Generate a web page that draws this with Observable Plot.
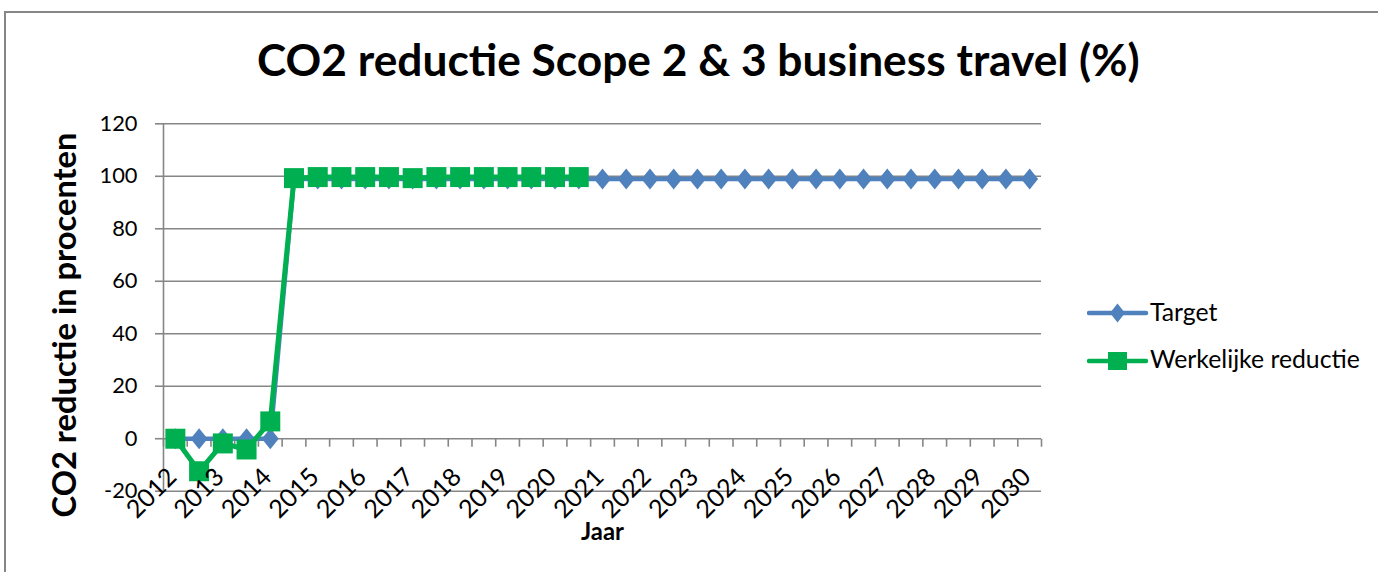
<!DOCTYPE html>
<html>
<head>
<meta charset="utf-8">
<script src="https://cdn.jsdelivr.net/npm/d3@7"></script>
<script src="https://cdn.jsdelivr.net/npm/@observablehq/plot@0.6"></script>
<style>
  html, body { margin: 0; padding: 0; background: #fff; }
  #chart { position: relative; width: 1378px; height: 572px; overflow: hidden; background: #fff; font-family: Lato, "Open Sans", sans-serif; }
  #chart svg.plot { position: absolute; left: 0; top: 0; }
  .abs { position: absolute; white-space: nowrap; color: #000; }
</style>
</head>
<body>
<div id="chart"></div>
<script>
// ---------- data ----------
const title = "CO2 reductie Scope 2 & 3 business travel (%)";
const yTitle = "CO2 reductie in procenten";
const xTitle = "Jaar";
const seriesNames = ["Target", "Werkelijke reductie"];
// axis labels, one per two periods on the category axis
const yearLabels = ["2012","2013","2014","2015","2016","2017","2018","2019","2020","2021",
                    "2022","2023","2024","2025","2026","2027","2028","2029","2030"];
const yTicks = [-20, 0, 20, 40, 60, 80, 100, 120];
// Target (37 periods)
const target = [0, 0, 0, 0, 0, 99, 99, 99, 99, 99, 99, 99, 99, 99, 99, 99, 99, 99, 99,
                99, 99, 99, 99, 99, 99, 99, 99, 99, 99, 99, 99, 99, 99, 99, 99, 99, 99];
// Werkelijke reductie (18 periods)
const actual = [0, -12.4, -1.8, -4.1, 6.6, 99.3, 99.7, 99.7, 99.7, 99.7, 99.3, 99.7, 99.7,
                99.7, 99.7, 99.7, 99.7, 99.7];

// ---------- styles ----------
const blue = "#4F81BD", green = "#00B050", gray = "#868686";
const family = "Lato";
const ctx = document.createElement("canvas").getContext("2d");
function fit(text, weight, width) {
  ctx.font = `${weight} 100px ${family}`;
  return 100 * width / ctx.measureText(text).width;
}
function ascent(size, weight) {
  ctx.font = `${weight} ${size}px ${family}`;
  const m = ctx.measureText("Hg");
  return {a: m.fontBoundingBoxAscent, d: m.fontBoundingBoxDescent};
}
const tickFs = fit("120", 400, 38);
const xTickFs = tickFs * 1.15;
const titleFs = fit(title, 700, 883);
const yTitleFs = fit(yTitle, 700, 385);
const xTitleFs = fit(xTitle, 700, 43);
const legendFs = fit(seriesNames[1], 400, 210);

const diamond = {draw(c) { c.moveTo(0, -10.5); c.lineTo(8.5, 0); c.lineTo(0, 10.5); c.lineTo(-8.5, 0); c.closePath(); }};
const square = {draw(c) { c.rect(-10, -10, 20, 20); }};
const tickDown = {draw(c) { c.moveTo(0, 0); c.lineTo(0, 8); }};

const n = target.length;
const targetData = target.map((v, i) => ({i, v}));
const actualData = actual.map((v, i) => ({i, v}));
const labelData = yearLabels.map((label, k) => ({i: 2 * k, label}));
const boundaries = d3.range(n + 1).map(i => i - 0.5);

const plot = Plot.plot({
  width: 1378,
  height: 572,
  marginLeft: 163,
  marginRight: 337,
  marginTop: 123.3,
  marginBottom: 81.3,
  x: {type: "linear", domain: [-0.5, n - 0.5], axis: null},
  y: {domain: [-20, 120], axis: null},
  style: {fontFamily: `${family}, sans-serif`, background: "transparent", color: "#000", overflow: "visible"},
  marks: [
    Plot.ruleY(yTicks, {stroke: gray, strokeWidth: 1.6}),
    Plot.ruleX([-0.5], {stroke: gray, strokeWidth: 1.6}),
    Plot.axisY({ticks: yTicks, tickSize: 8, tickPadding: 18, stroke: gray, strokeWidth: 1.6,
                fontSize: tickFs, label: null, tickFormat: d => String(d), fill: "#000"}),
    Plot.dot(boundaries, {x: d => d, y: 0, symbol: tickDown, stroke: gray, strokeWidth: 1.6, fill: "none"}),
    Plot.line(targetData, {x: "i", y: "v", stroke: blue, strokeWidth: 4.5}),
    Plot.dot(targetData, {x: "i", y: "v", symbol: diamond, fill: blue, stroke: "none"}),
    Plot.line(actualData, {x: "i", y: "v", stroke: green, strokeWidth: 5}),
    Plot.dot(actualData, {x: "i", y: "v", symbol: square, fill: green, stroke: "none"}),
    Plot.text(labelData, {x: "i", y: 0, text: "label", rotate: -45, textAnchor: "end", lineAnchor: "middle",
                          dx: -3, dy: 34, fontSize: xTickFs, fill: "#000"}),
    Plot.text([yTitle], {frameAnchor: "left", rotate: -90, textAnchor: "middle", lineAnchor: "bottom", dx: -88, dy: 17.5,
                         fontSize: yTitleFs, fontWeight: 700, fill: "#000"}),
    Plot.text([xTitle], {frameAnchor: "bottom", textAnchor: "middle", lineAnchor: "bottom", dx: 0, dy: 48.3,
                         fontSize: xTitleFs, fontWeight: 700, fill: "#000"})
  ]
});
plot.classList.add("plot");

const chart = document.getElementById("chart");
// outer border
const border = document.createElement("div");
border.className = "abs";
Object.assign(border.style, {left: "4px", top: "11px", width: "1500px", height: "700px", border: `2px solid ${gray}`, boxSizing: "border-box"});
chart.appendChild(border);
chart.appendChild(plot);

function addText(text, size, weight, left, baseline) {
  const m = ascent(size, weight);
  const el = document.createElement("div");
  el.className = "abs";
  el.textContent = text;
  Object.assign(el.style, {left: left + "px", top: (baseline - m.a) + "px", fontSize: size + "px",
    fontWeight: weight, fontFamily: `${family}, sans-serif`, lineHeight: (m.a + m.d) + "px"});
  chart.appendChild(el);
  return el;
}
// title
addText(title, titleFs, 700, 257, 76);

// legend
const legendRows = [
  {name: seriesNames[0], color: blue, shape: "diamond", cy: 313, baseline: 320.7},
  {name: seriesNames[1], color: green, shape: "square", cy: 360.7, baseline: 368.3}
];
for (const r of legendRows) {
  const sw = d3.create("svg").attr("width", 62).attr("height", 24)
    .style("position", "absolute").style("left", "1087px").style("top", (r.cy - 12) + "px");
  sw.append("line").attr("x1", 2).attr("x2", 59).attr("y1", 12).attr("y2", 12)
    .attr("stroke", r.color).attr("stroke-width", 4.5).attr("stroke-linecap", "round");
  if (r.shape === "diamond") {
    sw.append("path").attr("d", "M30.5,2.5L38,12L30.5,21.5L23,12Z").attr("fill", r.color);
  } else {
    sw.append("rect").attr("x", 21).attr("y", 3).attr("width", 19).attr("height", 18).attr("fill", r.color);
  }
  chart.appendChild(sw.node());
  addText(r.name, legendFs, 400, 1150, r.baseline);
}
</script>
</body>
</html>
